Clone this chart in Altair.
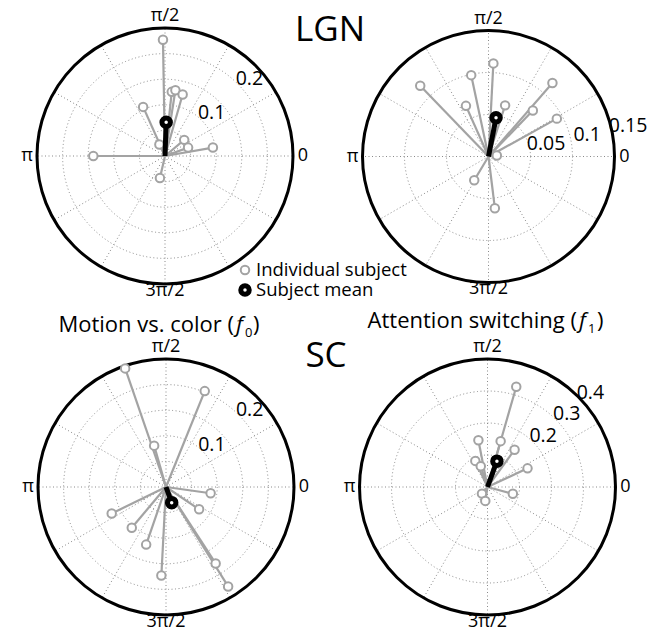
import altair as alt
import pandas as pd

# ------------------------------------------------------------------
# Data: phase (degrees) and amplitude per subject
# ------------------------------------------------------------------
lgn_motion_phase = [91, 84, 81, 74, 114, 116, 40, 20, 10, 180, 257]
lgn_motion_amp = [0.227, 0.126, 0.130, 0.125, 0.105, 0.025, 0.049, 0.048, 0.095, 0.140, 0.044]
lgn_motion_mean_phase = [88]
lgn_motion_mean_amp = [0.066]

lgn_attn_phase = [87, 102, 134, 114, 72, 49, 46, 29, 7, 239, 277]
lgn_attn_amp = [0.111, 0.099, 0.117, 0.066, 0.064, 0.116, 0.076, 0.093, 0.010, 0.033, 0.062]
lgn_attn_mean_phase = [79]
lgn_attn_mean_amp = [0.047]

sc_motion_phase = [109, 68, 106, 352, 326, 206, 230, 251, 267, 303, 302]
sc_motion_amp = [0.245, 0.202, 0.084, 0.088, 0.078, 0.118, 0.104, 0.119, 0.173, 0.178, 0.229]
sc_motion_mean_phase = [290]
sc_motion_mean_amp = [0.0325]

sc_attn_phase = [74, 74, 54, 101, 115, 108, 25, 345, 230, 261]
sc_attn_amp = [0.326, 0.149, 0.144, 0.149, 0.090, 0.068, 0.138, 0.082, 0.027, 0.044]
sc_attn_mean_phase = [70]
sc_attn_mean_amp = [0.086]

# radial grid rings and labelled ticks
lgn_motion_rings = [0.05, 0.10, 0.15, 0.20]
lgn_motion_ticks = ["0.1", "0.2"]
lgn_attn_rings = [0.05, 0.10]
lgn_attn_ticks = ["0.05", "0.1", "0.15"]
sc_motion_rings = [0.05, 0.10, 0.15, 0.20]
sc_motion_ticks = ["0.1", "0.2"]
sc_attn_rings = [0.1, 0.2, 0.3]
sc_attn_ticks = ["0.2", "0.3", "0.4"]

spoke_angles = [0, 30, 60, 90, 120, 150, 180, 210, 240, 270, 300, 330]
angle_labels = ["0", "π/2", "π", "3π/2"]
angle_label_angles = [0, 90, 180, 270]

legend_labels = ["Individual subject", "Subject mean"]

# ------------------------------------------------------------------
# Layout (pixels in the 663 x 633 page)
# ------------------------------------------------------------------
W, H = 663, 633
GRAY = "#a3a3a3"
GRID = "#8a8a8a"
FONT = "Open Sans"

panels = {
    "lgn_motion": dict(cx=165, cy=156, R=128, rmax=0.25, lab_ang=42.5, lab_off=12,
                       phase=lgn_motion_phase, amp=lgn_motion_amp,
                       mphase=lgn_motion_mean_phase, mamp=lgn_motion_mean_amp,
                       rings=lgn_motion_rings, ticks=lgn_motion_ticks),
    "lgn_attn": dict(cx=488.5, cy=156.5, R=126, rmax=0.15, lab_ang=12.5, lab_off=17,
                     phase=lgn_attn_phase, amp=lgn_attn_amp,
                     mphase=lgn_attn_mean_phase, mamp=lgn_attn_mean_amp,
                     rings=lgn_attn_rings, ticks=lgn_attn_ticks),
    "sc_motion": dict(cx=166, cy=487, R=128, rmax=0.25, lab_ang=42.5, lab_off=11,
                      phase=sc_motion_phase, amp=sc_motion_amp,
                      mphase=sc_motion_mean_phase, mamp=sc_motion_mean_amp,
                      rings=sc_motion_rings, ticks=sc_motion_ticks),
    "sc_attn": dict(cx=487.5, cy=487, R=128, rmax=0.4, lab_ang=42.5, lab_off=11.5,
                    phase=sc_attn_phase, amp=sc_attn_amp,
                    mphase=sc_attn_mean_phase, mamp=sc_attn_mean_amp,
                    rings=sc_attn_rings, ticks=sc_attn_ticks),
}
angle_label_offsets = [10, 12, 10, 6.5]


def geo(p):
    return dict(cx=p["cx"], cy=p["cy"], R=p["R"], rmax=p["rmax"])


subj_rows, mean_rows, ring_rows, outer_rows, spoke_rows, tick_rows, alab_rows = [], [], [], [], [], [], []
for name, p in panels.items():
    g = geo(p)
    for ph, a in zip(p["phase"], p["amp"]):
        subj_rows.append(dict(panel=name, phase=ph, amp=a, **g))
    for ph, a in zip(p["mphase"], p["mamp"]):
        mean_rows.append(dict(panel=name, phase=ph, amp=a, **g))
    for r in p["rings"]:
        ring_rows.append(dict(panel=name, ring=r, **g))
    outer_rows.append(dict(panel=name, ring=p["rmax"], **g))
    for s in spoke_angles:
        spoke_rows.append(dict(panel=name, phase=s, amp=p["rmax"], **g))
    for t in p["ticks"]:
        tick_rows.append(dict(panel=name, label=t, val=float(t), ang=p["lab_ang"], off=p["lab_off"], **g))
    for lab, ang, off in zip(angle_labels, angle_label_angles, angle_label_offsets):
        alab_rows.append(dict(panel=name, label=lab, ang=ang, off=off, **g))

xs = alt.Scale(domain=[0, W], nice=False, zero=False)
ys = alt.Scale(domain=[0, H], nice=False, zero=False, reverse=True)


def X(f):
    return alt.X(f"{f}:Q", scale=xs, axis=None)


def Y(f):
    return alt.Y(f"{f}:Q", scale=ys, axis=None)


def polar(ch):
    return ch.transform_calculate(
        px="datum.cx + datum.amp / datum.rmax * datum.R * cos(datum.phase * PI / 180)",
        py="datum.cy - datum.amp / datum.rmax * datum.R * sin(datum.phase * PI / 180)",
    )


subj = pd.DataFrame(subj_rows)
means = pd.DataFrame(mean_rows)

rings = alt.Chart(pd.DataFrame(ring_rows)).transform_calculate(
    sz="pow(2 * datum.ring / datum.rmax * datum.R, 2)"
).mark_point(shape="circle", filled=False, color=GRID, strokeWidth=1,
             strokeDash=[1, 2.5], opacity=1).encode(
    x=X("cx"), y=Y("cy"), size=alt.Size("sz:Q", scale=None, legend=None))

spokes = polar(alt.Chart(pd.DataFrame(spoke_rows))).mark_rule(
    color=GRID, strokeWidth=1, strokeDash=[1, 2.5]).encode(
    x=X("cx"), y=Y("cy"), x2="px:Q", y2="py:Q")

outer = alt.Chart(pd.DataFrame(outer_rows)).transform_calculate(
    sz="pow(2 * datum.R, 2)"
).mark_point(shape="circle", filled=False, color="black", strokeWidth=3, opacity=1).encode(
    x=X("cx"), y=Y("cy"), size=alt.Size("sz:Q", scale=None, legend=None))

subj_lines = polar(alt.Chart(subj)).mark_rule(color=GRAY, strokeWidth=2.2).encode(
    x=X("px"), y=Y("py"), x2="cx:Q", y2="cy:Q")
subj_pts = polar(alt.Chart(subj)).mark_point(
    shape="circle", filled=True, fill="white", stroke=GRAY, strokeWidth=2, size=72, opacity=1
).encode(x=X("px"), y=Y("py"))

mean_lines = polar(alt.Chart(means)).mark_rule(color="black", strokeWidth=5).encode(
    x=X("px"), y=Y("py"), x2="cx:Q", y2="cy:Q")
mean_pts = polar(alt.Chart(means)).mark_point(
    shape="circle", filled=True, fill="white", stroke="black", strokeWidth=5, size=72, opacity=1
).encode(x=X("px"), y=Y("py"))

ticks = alt.Chart(pd.DataFrame(tick_rows)).transform_calculate(
    rr="datum.val / datum.rmax * datum.R + datum.off",
).transform_calculate(
    tx="datum.cx + datum.rr * cos(datum.ang * PI / 180)",
    ty="datum.cy - datum.rr * sin(datum.ang * PI / 180)",
).mark_text(font=FONT, fontSize=19.5, color="black", align="center", baseline="middle").encode(
    x=X("tx"), y=Y("ty"), text="label:N")

alabs = alt.Chart(pd.DataFrame(alab_rows)).transform_calculate(
    rr="datum.R + datum.off",
).transform_calculate(
    tx="datum.cx + datum.rr * cos(datum.ang * PI / 180)",
    ty="datum.cy - datum.rr * sin(datum.ang * PI / 180)",
).mark_text(font=FONT, fontSize=18, color="black", align="center", baseline="middle").encode(
    x=X("tx"), y=Y("ty"), text="label:N")

# Titles
big_titles = alt.Chart(pd.DataFrame({
    "label": ["LGN", "SC"], "tx": [330, 326], "ty": [30, 356]})).mark_text(
    font=FONT, fontSize=35, color="black", align="center", baseline="middle").encode(
    x=X("tx"), y=Y("ty"), text="label:N")

sub_main = alt.Chart(pd.DataFrame({
    "label": ["Motion vs. color (", "Attention switching ("],
    "tx": [234, 577], "ty": [325, 321]})).mark_text(
    font=FONT, fontSize=22, color="black", align="right", baseline="middle").encode(
    x=X("tx"), y=Y("ty"), text="label:N")
sub_f = alt.Chart(pd.DataFrame({
    "label": ["f", "f"], "tx": [236, 579], "ty": [325, 321]})).mark_text(
    font=FONT, fontSize=22, fontStyle="italic", color="black", align="left", baseline="middle").encode(
    x=X("tx"), y=Y("ty"), text="label:N")
sub_idx = alt.Chart(pd.DataFrame({
    "label": ["0", "1"], "tx": [245, 588], "ty": [333, 329]})).mark_text(
    font=FONT, fontSize=13, color="black", align="left", baseline="middle").encode(
    x=X("tx"), y=Y("ty"), text="label:N")
sub_close = alt.Chart(pd.DataFrame({
    "label": [")", ")"], "tx": [253, 597], "ty": [325, 321]})).mark_text(
    font=FONT, fontSize=22, color="black", align="left", baseline="middle").encode(
    x=X("tx"), y=Y("ty"), text="label:N")

# Legend
leg = pd.DataFrame({"label": legend_labels, "mx": [245, 245], "ty": [270, 290], "tx": [256, 256]})
leg_gray = alt.Chart(leg.iloc[[0]]).mark_point(
    shape="circle", filled=True, fill="white", stroke=GRAY, strokeWidth=2, size=72, opacity=1
).encode(x=X("mx"), y=Y("ty"))
leg_black = alt.Chart(leg.iloc[[1]]).mark_point(
    shape="circle", filled=True, fill="white", stroke="black", strokeWidth=5, size=72, opacity=1
).encode(x=X("mx"), y=Y("ty"))
leg_text = alt.Chart(leg).mark_text(
    font=FONT, fontSize=18.5, color="black", align="left", baseline="middle").encode(
    x=X("tx"), y=Y("ty"), text="label:N")

chart = alt.layer(
    rings, spokes, outer, subj_lines, subj_pts, mean_lines, mean_pts,
    ticks, alabs, big_titles, sub_main, sub_f, sub_idx, sub_close,
    leg_gray, leg_black, leg_text,
).properties(
    width=W, height=H, autosize=alt.AutoSizeParams(type="none"), padding=0,
    background="white",
).configure_view(stroke=None)

chart.save("out.html", embed_options={"renderer": "svg", "actions": False})
